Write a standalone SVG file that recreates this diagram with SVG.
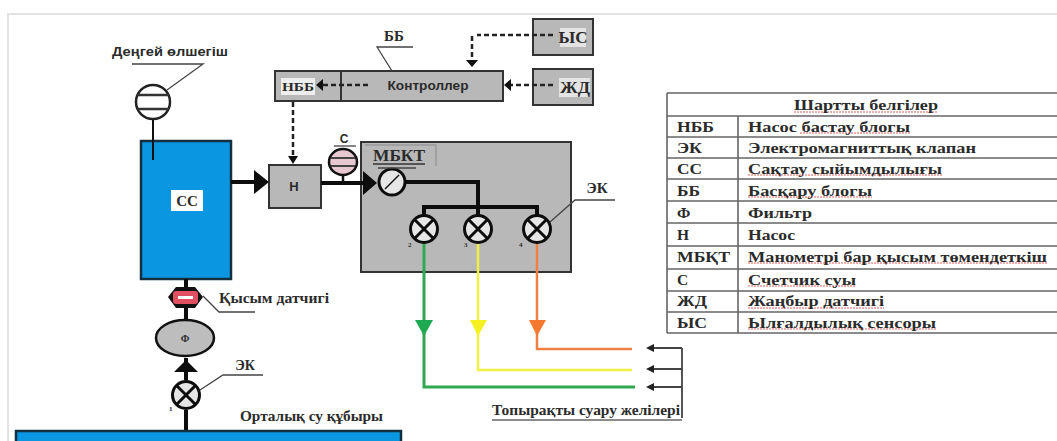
<svg xmlns="http://www.w3.org/2000/svg" width="1057" height="441" viewBox="0 0 1057 441">
<style>
text{font-family:"Liberation Serif","DejaVu Serif",serif;font-weight:bold;fill:#2b2b2b}
.sans{font-family:"Liberation Sans","DejaVu Sans",sans-serif}
.m{text-anchor:middle}
.box{fill:#b8b8b8;stroke:#333;stroke-width:2}
.blue{fill:#0a96e0;stroke:#143040;stroke-width:2.5}
.pipe{fill:none;stroke:#0d0d0d;stroke-width:4}
.thin{fill:none;stroke:#444;stroke-width:1.3}
.dash{fill:none;stroke:#222;stroke-width:2.5;stroke-dasharray:5 3}
.v{fill:#e6e6e6;stroke:#0d0d0d;stroke-width:3}
.x{stroke:#0d0d0d;stroke-width:3}
.rule{stroke:#666;stroke-width:1.6}
.sq{fill:none;stroke:#d86060;stroke-width:1.2;stroke-dasharray:2 1}
</style>
<defs>
<g id="valve"><circle class="v" r="13.5"/><path class="x" d="M-9,-9 9,9M-9,9 9,-9"/></g>
<g id="meter"><ellipse rx="14" ry="13" fill="#e8c8d0" stroke="#111" stroke-width="2.5"/><path d="M-12,-4H12M-12,4H12" stroke="#444" stroke-width="2"/></g>
</defs>
<rect width="1057" height="441" fill="#fff"/>
<path d="M8,441V14H1057" fill="none" stroke="#e2e2e2" stroke-width="2"/>

<g id="cc"><rect class="blue" x="141" y="141" width="90" height="138"/><rect x="171" y="190" width="32" height="21" fill="#fff"/><text class="m" x="187" y="206" font-size="15">СС</text></g>
<g id="level"><text class="sans m" x="170" y="56" font-size="12.5" textLength="116" lengthAdjust="spacingAndGlyphs">Деңгей өлшегіш</text><path class="thin" d="M132,64H203L167,90"/><path d="M153,119V160" stroke="#111" stroke-width="2" fill="none"/><circle cx="153" cy="102" r="17" fill="#fff" stroke="#222" stroke-width="2.5"/><path d="M137,95H169M137,109H169" stroke="#333" stroke-width="2.5"/></g>
<g id="h"><rect class="box" x="269" y="165" width="52" height="43"/><text class="sans m" x="294" y="191" font-size="13">Н</text></g>
<g id="controller"><rect class="box" x="275" y="71" width="228" height="30"/><path d="M341,71V101" stroke="#333" stroke-width="2"/><rect x="281" y="78" width="34" height="17" fill="#eee"/><text class="m" x="298" y="91" font-size="13" textLength="32" lengthAdjust="spacingAndGlyphs">НББ</text><text class="sans m" x="428" y="90" font-size="12.5" textLength="81" lengthAdjust="spacingAndGlyphs">Контроллер</text><text class="m" x="394" y="41" font-size="15">ББ</text><path class="thin" d="M413,47H377L392,71"/></g>
<g id="ys"><rect class="box" x="533" y="19" width="60" height="36"/><rect x="560" y="28" width="26" height="19" fill="#e4e4e4"/><text class="m" x="573" y="43" font-size="17">ЫС</text></g>
<g id="zhd"><rect class="box" x="533" y="69" width="60" height="36"/><rect x="559" y="78" width="31" height="19" fill="#e4e4e4"/><text class="m" x="575" y="93" font-size="17" textLength="30" lengthAdjust="spacingAndGlyphs">ЖД</text></g>
<g id="grey"><rect class="box" x="361" y="142" width="210" height="130" stroke-width="2.5"/><path d="M365,145H436V166" fill="none" stroke="#999" stroke-width="1.5"/><text class="m" x="399" y="161" font-size="16" textLength="52" lengthAdjust="spacingAndGlyphs">МБКТ</text><path d="M373,164H425" stroke="#333" stroke-width="1.3"/></g>

<g id="connectors">
<path class="pipe" d="M231,182H256M321,183H366M186,279V290M186,308V320M186,358V380M186,410V431M405,182H478V216M424,216V207H537V216"/>
<path d="M343,175V183" stroke="#111" stroke-width="2.5"/>
<path d="M254,170 269,182 254,194ZM363,171 377,183 363,195ZM174,372 186,360 198,372Z" fill="#0d0d0d"/>
<path class="dash" d="M293,102V156M368,85H323M553,85H511M553,35H477M472,36V60"/>
<path d="M288,156H298L293,164ZM466,60H478L472,67ZM316,85 323,79V91ZM504,85 511,79V91Z" fill="#111"/>
<path d="M424,243V387H635" fill="none" stroke="#2fa84f" stroke-width="3"/>
<path d="M478,243V370H632" fill="none" stroke="#f0f040" stroke-width="2.5"/>
<path d="M537,243V349H632" fill="none" stroke="#f08040" stroke-width="2.5"/>
<path d="M415,320H433L424,336Z" fill="#1ea84f"/><path d="M470,320H487L478,336Z" fill="#f5f020"/><path d="M529,320H546L537,336Z" fill="#f57a30"/>
<path d="M682,348V418M682,348H652M682,369H652M682,387H652" fill="none" stroke="#444" stroke-width="1.8"/>
<path d="M646,348 654,344V352ZM646,369 654,365V373ZM646,387 654,383V391Z" fill="#222"/>
<path class="thin" d="M263,375H223L200,390M203,296 219,312H255M550,222 575,200H615"/>
</g>

<g id="sensor"><path d="M176,287H195L203,297 195,308H176L168,297Z" fill="#111"/><rect x="173" y="291" width="25" height="13" rx="3" fill="#e05060"/><rect x="178" y="296" width="15" height="3" fill="#fff"/><text x="219" y="303" font-size="14" textLength="110" lengthAdjust="spacingAndGlyphs">Қысым датчигі</text></g>
<g id="filter"><ellipse cx="185" cy="338" rx="29" ry="18" fill="#bdbdbd" stroke="#111" stroke-width="2.5"/><text class="m" x="185" y="342" font-size="10">Ф</text></g>
<use href="#valve" x="186" y="395"/>
<text x="169" y="411" font-size="7">1</text>
<text class="m" x="245" y="370" font-size="14">ЭК</text>
<g id="pipe"><rect x="16" y="431" width="385" height="12" class="blue"/><text x="240" y="421" font-size="14" textLength="143" lengthAdjust="spacingAndGlyphs">Орталық су құбыры</text></g>
<g id="counter"><use href="#meter" x="343" y="162"/><text class="sans m" x="344" y="143" font-size="12">С</text><path class="thin" d="M334,146H356"/></g>
<g id="gauge"><circle class="v" cx="392" cy="182" r="13"/><path d="M385,189 399,175" stroke="#111" stroke-width="1.5"/><path class="thin" d="M378,168H416"/></g>
<use href="#valve" x="424" y="229"/><use href="#valve" x="478" y="229"/><use href="#valve" x="537" y="229"/>
<g font-size="7"><text x="408" y="247">2</text><text x="464" y="247">3</text><text x="519" y="247">4</text></g>
<text class="m" x="597" y="193" font-size="15">ЭК</text>
<text x="492" y="415" font-size="14" textLength="188" lengthAdjust="spacingAndGlyphs">Топырақты суару желілері</text>
<path d="M492,420H682" stroke="#666" stroke-width="1.5"/>

<g id="legend">
<path class="rule" d="M667,93H1057M667,116H1057M667,137H1057M667,158H1057M667,179H1057M667,201H1057M667,223H1057M667,246H1057M667,269H1057M667,291H1057M667,312H1057M667,333H1057M667,93V333M738,116V333"/>
<path class="sq" d="M794,112H938M800,133H910M748,175H942M748,197H872M748,263H1047M748,286H856M748,308H884M748,329H936"/>
<g font-size="15.5" lengthAdjust="spacingAndGlyphs">
<text x="794" y="110" textLength="144" lengthAdjust="spacingAndGlyphs">Шартты белгілер</text>
<text x="677" y="132" textLength="37" lengthAdjust="spacingAndGlyphs">НББ</text><text x="748" y="132" textLength="162" lengthAdjust="spacingAndGlyphs">Насос бастау блогы</text>
<text x="677" y="153" textLength="25" lengthAdjust="spacingAndGlyphs">ЭК</text><text x="748" y="153" textLength="228" lengthAdjust="spacingAndGlyphs">Электромагниттық клапан</text>
<text x="677" y="174" textLength="25" lengthAdjust="spacingAndGlyphs">СС</text><text x="748" y="174" textLength="194" lengthAdjust="spacingAndGlyphs">Сақтау сыйымдылығы</text>
<text x="677" y="196" textLength="23" lengthAdjust="spacingAndGlyphs">ББ</text><text x="748" y="196" textLength="124" lengthAdjust="spacingAndGlyphs">Басқару блогы</text>
<text x="677" y="218">Ф</text><text x="748" y="218" textLength="64" lengthAdjust="spacingAndGlyphs">Фильтр</text>
<text x="677" y="240">Н</text><text x="748" y="240" textLength="47" lengthAdjust="spacingAndGlyphs">Насос</text>
<text x="677" y="262" textLength="53" lengthAdjust="spacingAndGlyphs">МБҚТ</text><text x="748" y="262" textLength="299" lengthAdjust="spacingAndGlyphs">Манометрі бар қысым төмендеткіш</text>
<text x="677" y="285">С</text><text x="748" y="285" textLength="108" lengthAdjust="spacingAndGlyphs">Счетчик суы</text>
<text x="677" y="306" textLength="30" lengthAdjust="spacingAndGlyphs">ЖД</text><text x="748" y="306" textLength="136" lengthAdjust="spacingAndGlyphs">Жаңбыр датчигі</text>
<text x="677" y="328" textLength="30" lengthAdjust="spacingAndGlyphs">ЫС</text><text x="748" y="328" textLength="188" lengthAdjust="spacingAndGlyphs">Ылғалдылық сенсоры</text>
</g></g>
</svg>
